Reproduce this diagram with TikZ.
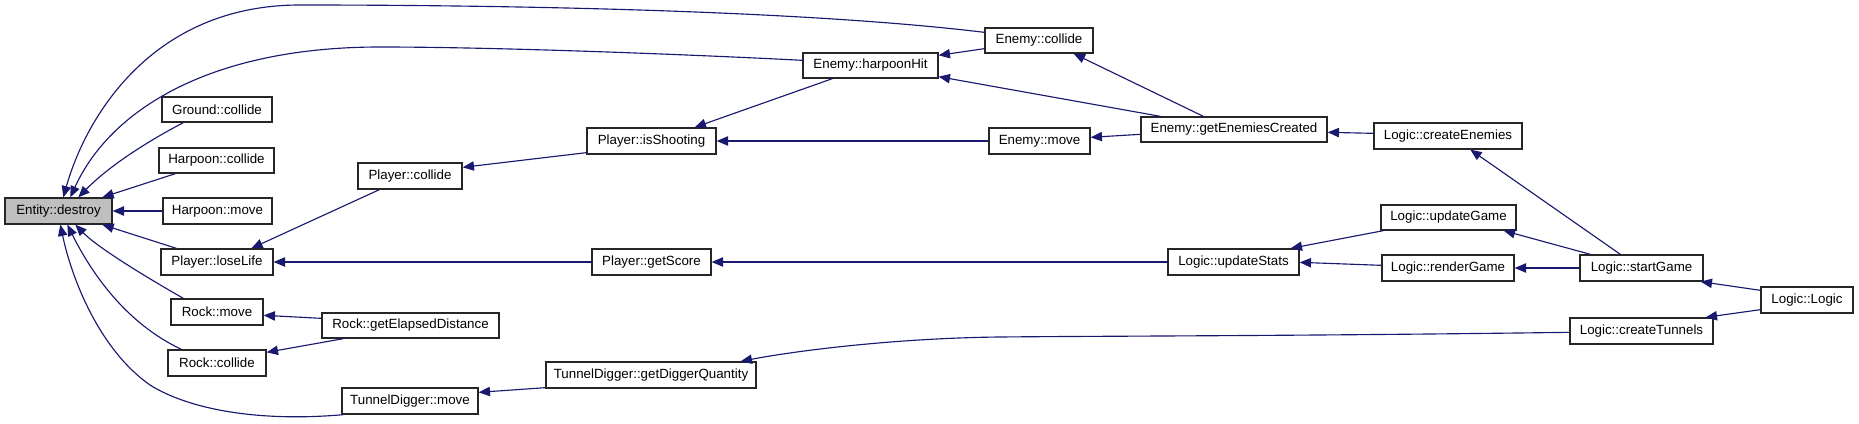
\documentclass[tikz,border=0pt]{standalone}
\usepackage{fontspec}
\setmainfont{Liberation Sans}
\usetikzlibrary{arrows.meta,calc}
\definecolor{edgeblue}{HTML}{191970}
\definecolor{entgray}{HTML}{BFBFBF}
\tikzset{
  box/.style={draw=black!85, line width=1pt, fill=white, inner sep=0pt, font=\fontsize{10}{12}\selectfont},
  edge/.style={draw=edgeblue, line width=0.85pt, -{Triangle[length=8.5pt,width=7pt]}},
}
\newcommand\mkbox[7][]{\node[box,#1,minimum width={(#5-#3)*0.75pt},minimum height={(#6-#4)*0.75pt}] (#2) at ({(#3+#5)/2},{(#4+#6)/2}) {#7};}
\begin{document}
\begin{tikzpicture}[x=0.75pt,y=-0.75pt]
\useasboundingbox (0,0) rectangle (1859,424);
\fill[white] (0,0) rectangle (1859,424);
% nodes
\mkbox[fill=entgray]{ent}{5}{198}{112}{224}{Entity::destroy}
\mkbox{ground}{162}{97}{272}{122}{Ground::collide}
\mkbox{hcol}{159}{148}{274}{173}{Harpoon::collide}
\mkbox{hmove}{163}{198}{272}{224}{Harpoon::move}
\mkbox{lose}{161}{249}{273}{275}{Player::loseLife}
\mkbox{rmove}{171}{299}{263}{325}{Rock::move}
\mkbox{rcol}{168}{350}{266}{376}{Rock::collide}
\mkbox{tdmove}{342}{388}{478}{414}{TunnelDigger::move}
\mkbox{pcol}{358}{163}{462}{189}{Player::collide}
\mkbox{red}{322}{313}{499}{338}{Rock::getElapsedDistance}
\mkbox{shoot}{587}{128}{716}{154}{Player::isShooting}
\mkbox{score}{592}{249}{711}{275}{Player::getScore}
\mkbox{tdq}{546}{362}{756}{388}{TunnelDigger::getDiggerQuantity}
\mkbox{hit}{803}{53}{938}{78}{Enemy::harpoonHit}
\mkbox{ecol}{985}{28}{1093}{53}{Enemy::collide}
\mkbox{emove}{989}{128}{1090}{154}{Enemy::move}
\mkbox{gec}{1141}{117}{1327}{142}{Enemy::getEnemiesCreated}
\mkbox{upstats}{1168}{249}{1299}{275}{Logic::updateStats}
\mkbox{cen}{1374}{123}{1522}{149}{Logic::createEnemies}
\mkbox{upgame}{1381}{205}{1516}{230}{Logic::updateGame}
\mkbox{render}{1382}{255}{1514}{281}{Logic::renderGame}
\mkbox{start}{1580}{255}{1703}{281}{Logic::startGame}
\mkbox{logic}{1761}{287}{1853}{313}{Logic::Logic}
\mkbox{ctun}{1570}{318}{1713}{344}{Logic::createTunnels}
% edges into Entity::destroy
\draw[edge] ($(ecol.north west)+(0,5)$) .. controls (800,10) and (500,5) .. (300,5)
  .. controls (150,5) and (85,120) .. ($(ent.north west)+(59,0)$);
\draw[edge] ($(hit.north west)+(0,8)$) .. controls (700,55) and (500,47) .. (380,47)
  .. controls (210,47) and (110,110) .. ($(ent.north west)+(66,0)$);
\draw[edge] ($(ground.south west)+(22,0)$) .. controls (150,140) and (110,165) .. ($(ent.north west)+(74,0)$);
\draw[edge] ($(hcol.south west)+(17,0)$) -- ($(ent.north west)+(98,0)$);
\draw[edge] (hmove.west) -- (ent.east);
\draw[edge] ($(lose.north west)+(16,0)$) -- ($(ent.south west)+(98,0)$);
\draw[edge] ($(rmove.north west)+(13,0)$) .. controls (160,285) and (100,250) .. ($(ent.south west)+(71,0)$);
\draw[edge] ($(rcol.north west)+(14,0)$) .. controls (130,325) and (95,280) .. ($(ent.south west)+(63,0)$);
\draw[edge] ($(tdmove.south west)+(2,0)$) .. controls (260,422) and (190,410) .. (150,385)
  .. controls (100,350) and (72,280) .. ($(ent.south west)+(56,0)$);
% middle
\draw[edge] ($(pcol.south west)+(22,0)$) -- ($(lose.north west)+(91,0)$);
\draw[edge] ($(shoot.south west)+(0,-2)$) -- ($(pcol.north east)+(0,5)$);
\draw[edge] (score.west) -- (lose.east);
\draw[edge] ($(red.north west)+(0,6)$) -- ($(rmove.north east)+(0,17)$);
\draw[edge] ($(red.south west)+(22,0)$) -- ($(rcol.north east)+(0,3)$);
\draw[edge] ($(tdq.south west)+(0,-1)$) -- ($(tdmove.north east)+(0,5)$);
\draw[edge] ($(hit.south west)+(30,0)$) -- ($(shoot.north east)+(-22,0)$);
\draw[edge] (emove.west) -- (shoot.east);
\draw[edge] ($(ecol.south west)+(0,-5)$) -- ($(hit.north east)+(0,3)$);
\draw[edge] ($(gec.north west)+(20,0)$) -- ($(hit.south east)+(0,-2)$);
\draw[edge] ($(gec.north west)+(63,0)$) -- ($(ecol.south east)+(-20,0)$);
\draw[edge] ($(gec.north west)+(0,18)$) -- ($(emove.north east)+(0,10)$);
\draw[edge] ($(cen.north west)+(0,11)$) -- ($(gec.north east)+(0,16)$);
\draw[edge] ($(start.north west)+(41,0)$) -- ($(cen.south west)+(97,0)$);
\draw[edge] (upstats.west) -- (score.east);
\draw[edge] ($(upgame.south west)+(3,0)$) -- ($(upstats.north east)+(-9,0)$);
\draw[edge] ($(render.north west)+(0,11)$) -- ($(upstats.north east)+(0,14)$);
\draw[edge] ($(start.north west)+(11,0)$) -- ($(upgame.south east)+(-13,0)$);
\draw[edge] (start.west) -- (render.east);
\draw[edge] ($(logic.north west)+(0,4)$) -- ($(start.south east)+(-3,0)$);
\draw[edge] ($(logic.south west)+(0,-4)$) -- ($(ctun.north east)+(-8,0)$);
\draw[edge] ($(ctun.north west)+(0,15)$) .. controls (1300,336) and (1100,336) .. (1000,337)
  .. controls (900,338) and (800,350) .. ($(tdq.north east)+(-16,0)$);
\end{tikzpicture}
\end{document}
